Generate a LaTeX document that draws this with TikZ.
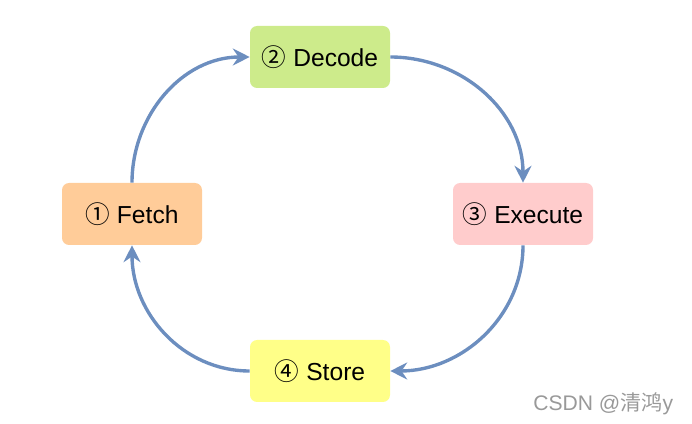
\documentclass[tikz,border=0pt]{standalone}
\usepackage{fontspec}
\setmainfont{Liberation Sans}
\newfontfamily\cjkfont{Noto Sans CJK SC}
\usepackage{xcolor}
\usetikzlibrary{arrows.meta}

\definecolor{fetchfill}{HTML}{FFCC99}
\definecolor{decodefill}{HTML}{CDEB8B}
\definecolor{execfill}{HTML}{FFCCCC}
\definecolor{storefill}{HTML}{FFFF88}
\definecolor{flowblue}{HTML}{6C8EBF}

\begin{document}
\begin{tikzpicture}[
  stage/.style={rounded corners=5pt,minimum width=3.5cm,minimum height=1.55cm,
    inner sep=0pt,font=\fontsize{17.5}{21}\selectfont},
  flow/.style={-{Stealth[length=12pt,width=12pt,inset=4pt,fill=flowblue]},
    draw=flowblue,line width=2.4pt}
]
  \useasboundingbox (0,0) rectangle (17.3,10.6);

  \node[stage,fill=fetchfill]  (fetch)   at (3.3,5.25)    {{\cjkfont ①} Fetch};
  \node[stage,fill=decodefill] (decode)  at (8.0,9.175)   {{\cjkfont ②} Decode};
  \node[stage,fill=execfill]   (execute) at (13.075,5.25) {{\cjkfont ③} Execute};
  \node[stage,fill=storefill]  (store)   at (8.0,1.325)   {{\cjkfont ④} Store};

  \draw[flow] (fetch.north)   to[out=90,in=180]  (decode.west);
  \draw[flow] (decode.east)   to[out=0,in=90]    (execute.north);
  \draw[flow] (execute.south) to[out=-90,in=0]   (store.east);
  \draw[flow] (store.west)    to[out=180,in=-90] (fetch.south);

  \node[text=black!40,font=\fontsize{15}{17}\selectfont] (mark) at (15.08,0.5)
    {CSDN @{\cjkfont 清鸿}y};
\end{tikzpicture}
\end{document}
